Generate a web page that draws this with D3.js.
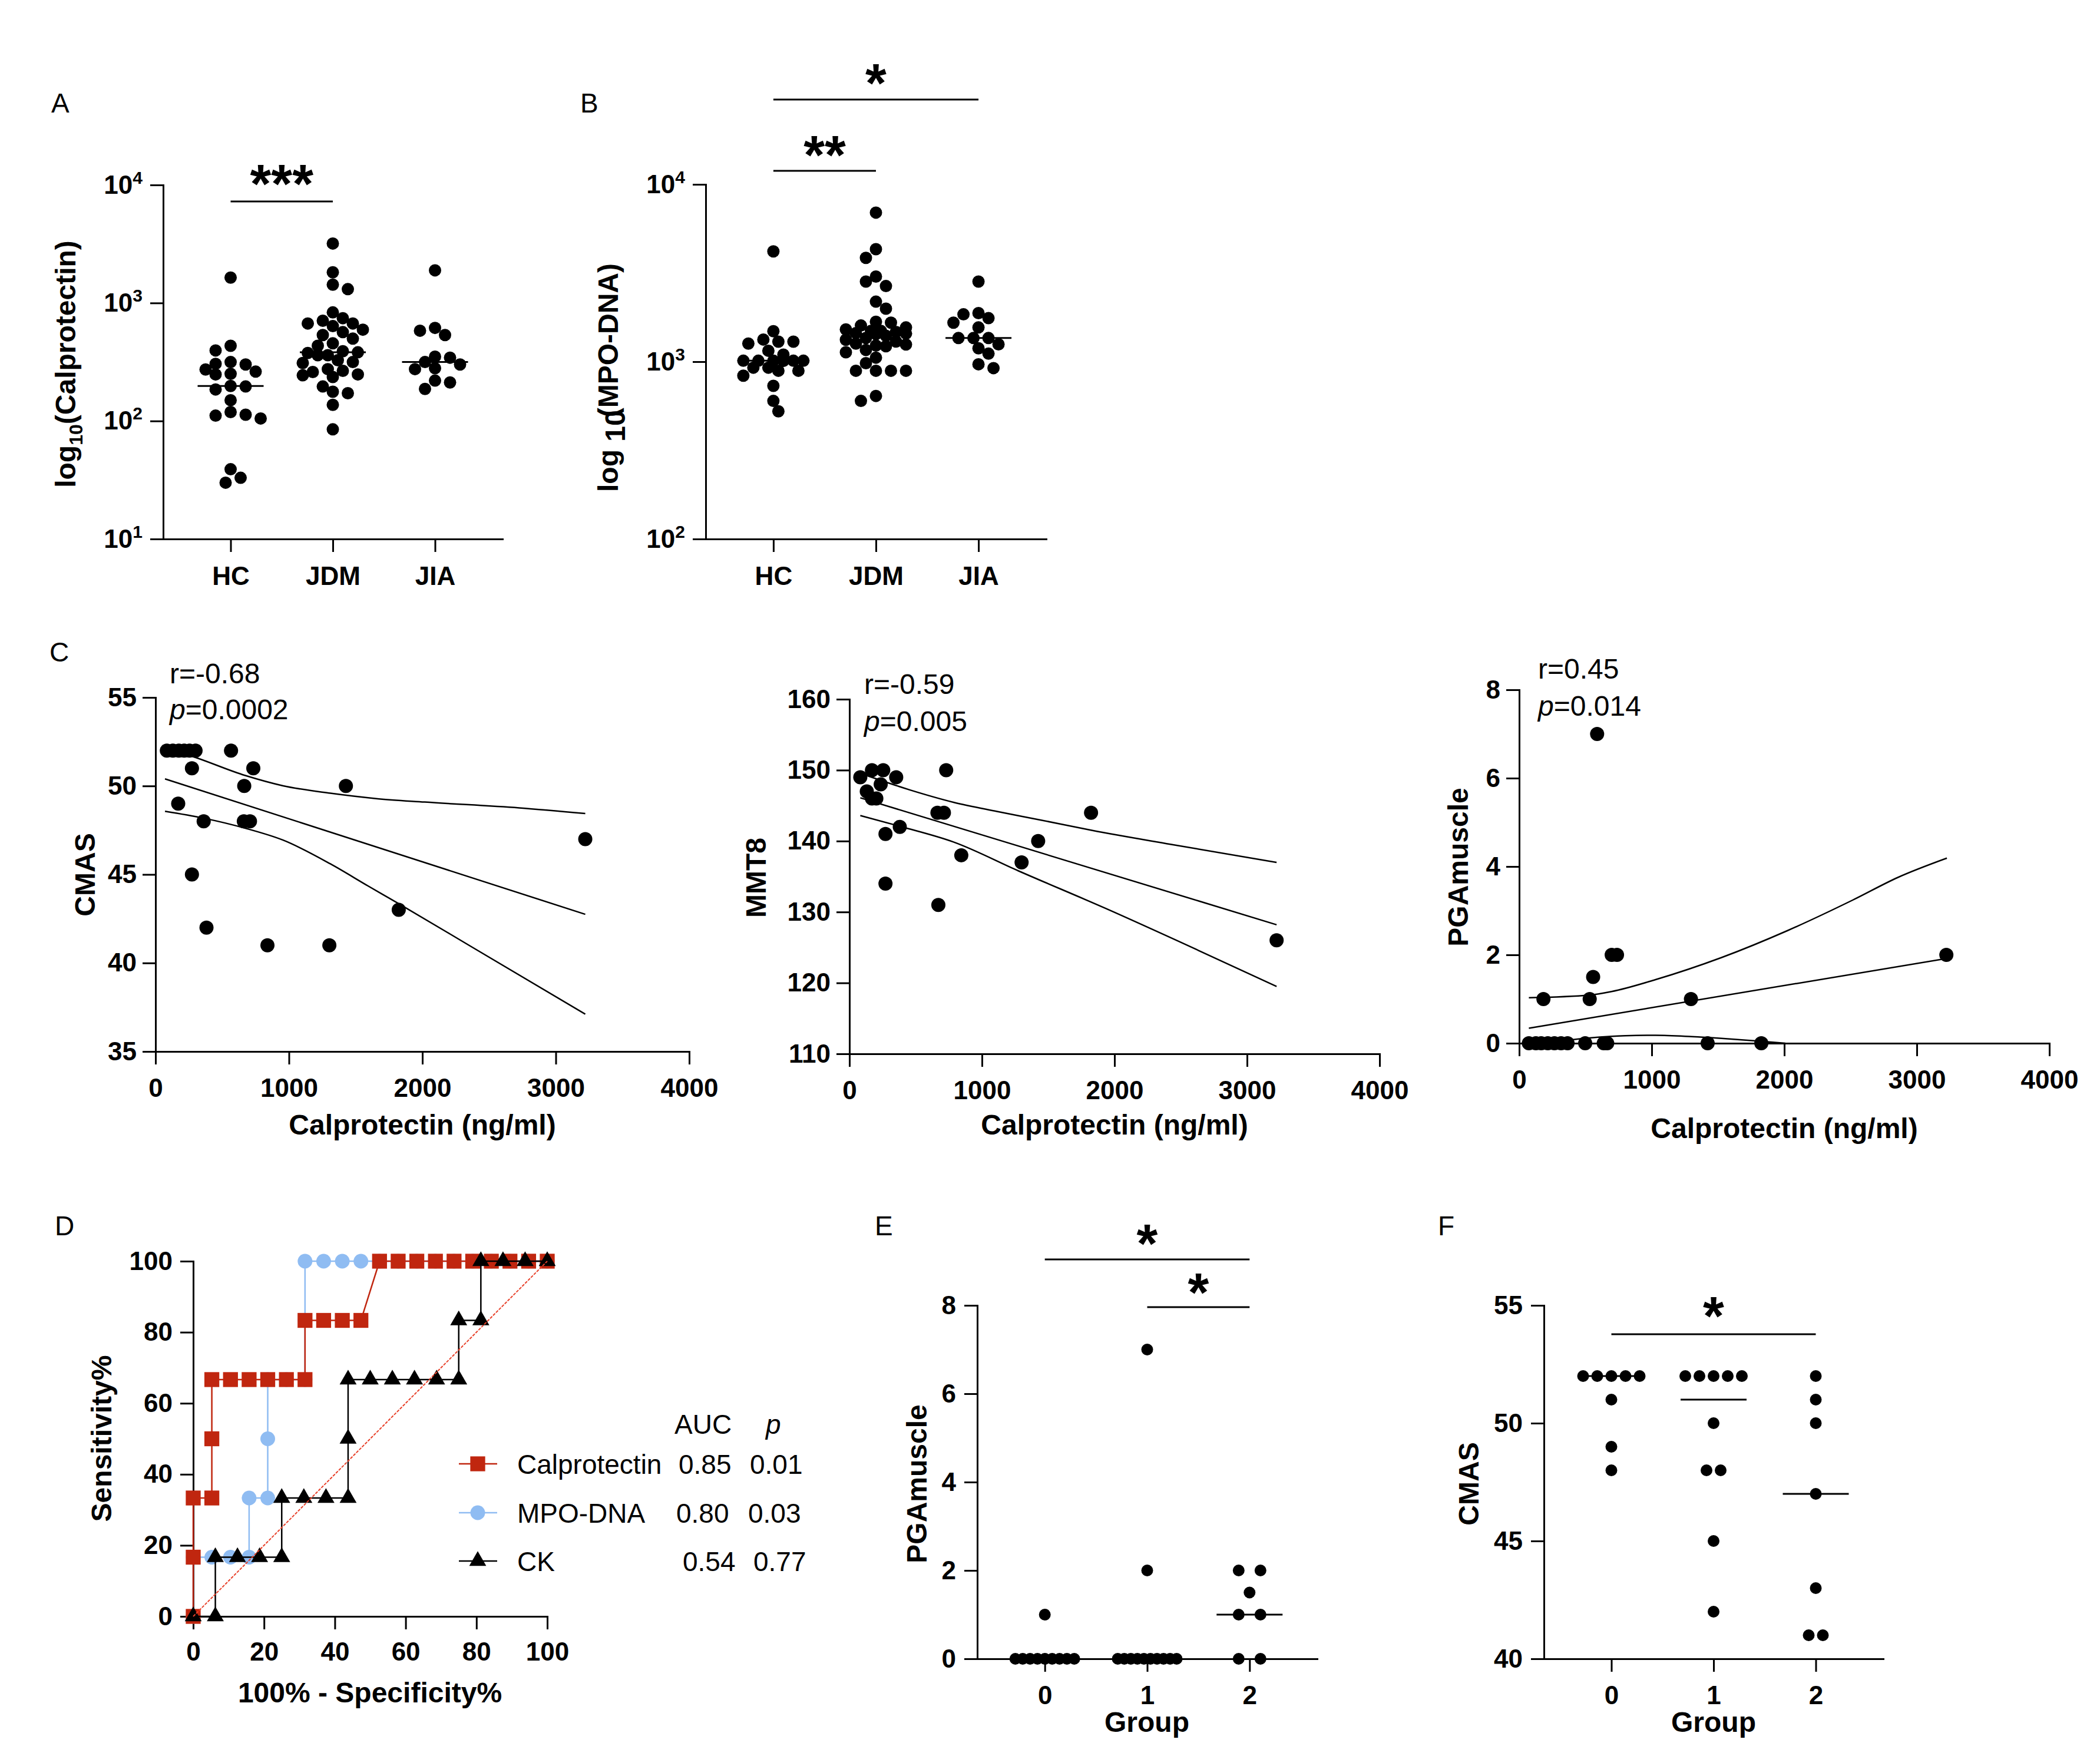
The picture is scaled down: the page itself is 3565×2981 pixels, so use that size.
<!DOCTYPE html>
<html>
<head>
<meta charset="utf-8" />
<title>Calprotectin, MPO-DNA and disease activity in JDM</title>
<script src="https://cdn.jsdelivr.net/npm/d3@7"></script>
<style>
  body { margin: 0; background: #fff; }
  svg text { font-family: "Liberation Sans", Arial, Helvetica, sans-serif; fill: #000; }
</style>
</head>
<body>
<script>
// ---------- A: calprotectin (log) by group ----------
var groupNames = ["HC", "JDM", "JIA"];
var calHC = [1640, 434, 396, 316, 301, 305, 273, 262, 251, 248, 185, 196, 198, 150, 119, 111, 105, 113, 39, 30, 33];
var calJDM = [3190, 1820, 1430, 1310, 832, 743, 707, 670, 670, 637, 594, 566, 535, 499, 455, 434, 390, 382, 377, 361, 361,
  327, 316, 310, 275, 266, 260, 248, 244, 236, 196, 177, 172, 137, 85];
var calJIA = [1890, 615, 582, 535, 351, 344, 316, 301, 280, 275, 220, 212, 187];
var logTicksA = [10, 100, 1000, 10000];

// ---------- B: MPO-DNA (log) by group ----------
var mpoHC = [4190, 1486, 1333, 1297, 1297, 1265, 1153, 1097, 1013, 1013, 1013, 1013, 1013, 1010, 925, 925, 889, 889, 834, 731, 601, 525];
var mpoJDM = [6930, 4310, 3850, 3020, 2830, 2670, 2180, 1990, 1680, 1660, 1600, 1560, 1520, 1490, 1490, 1470, 1450, 1440, 1430,
  1400, 1360, 1330, 1300, 1265, 1250, 1233, 1222, 1164, 1130, 1054, 981, 889, 889, 889, 889, 641, 601];
var mpoJIA = [2830, 1880, 1850, 1760, 1660, 1560, 1360, 1360, 1360, 1253, 1190, 1110, 967, 920];
var logTicksB = [100, 1000, 10000];

// ---------- C: correlations with calprotectin ----------
var cmasCal = [85, 130, 175, 215, 255, 300, 566, 273, 733, 665, 1427, 170, 361, 662, 708, 3221, 273, 1823, 382, 839, 1303];
var cmasVal = [52, 52, 52, 52, 52, 52, 52, 51, 51, 50, 50, 49, 48, 48, 48, 47, 45, 43, 42, 41, 41];
var cmasFit = [[71, 50.4], [3221, 42.75]];
var cmasUpper = [[71, 52.12], [248, 51.74], [673, 50.59], [956, 50.01], [1310, 49.59], [1664, 49.28], [2018, 49.09], [2726, 48.76], [3221, 48.44]];
var cmasLower = [[71, 48.57], [354, 48.19], [673, 47.61], [956, 46.94], [1310, 45.6], [1593, 44.35], [1823, 43.35], [2372, 40.9], [3221, 37.11]];

var mmtCal = [82, 131, 170, 255, 236, 170, 203, 353, 730, 664, 713, 380, 272, 1823, 1424, 844, 1299, 272, 671, 3223];
var mmtVal = [149, 147, 150, 150, 148, 146, 146, 149, 150, 144, 144, 142, 141, 144, 140, 138, 137, 134, 131, 126];
var mmtFit = [[82, 146.1], [3223, 128.2]];
var mmtUpper = [[98, 149.45], [458, 147.2], [785, 145.47], [1113, 144.18], [1440, 142.98], [1833, 141.5], [2421, 139.55], [3223, 136.99]];
var mmtLower = [[82, 143.6], [393, 142.02], [785, 139.87], [1276, 135.79], [1931, 130.52], [2585, 125.0], [3223, 119.49]];

var pgaCal = [73, 126, 166, 216, 266, 316, 365, 498, 638, 664, 1422, 1827, 183, 532, 1296, 558, 698, 738, 3223, 588];
var pgaVal = [0, 0, 0, 0, 0, 0, 0, 0, 0, 0, 0, 0, 1, 1, 1, 1.5, 2, 2, 2, 7];
var pgaFit = [[73, 0.34], [3227, 1.92]];
var pgaUpper = [[73, 1.03], [531, 1.09], [697, 1.17], [1029, 1.44], [1527, 1.94], [2025, 2.55], [2523, 3.25], [2855, 3.75], [3227, 4.19]];
var pgaLower = [[73, 0.0], [300, 0.05], [531, 0.12], [800, 0.17], [1029, 0.18], [1300, 0.15], [1527, 0.11], [1800, 0.05], [2008, 0.0]];

var corrR = ["r=-0.68", "r=-0.59", "r=0.45"];
var corrP = ["=0.0002", "=0.005", "=0.014"];

// ---------- D: ROC curves ----------
var rocCalFpr = [0, 0, 0, 5.26, 5.26, 5.26, 10.53, 15.79, 21.05, 26.32, 31.58, 31.58, 36.84, 42.11, 47.37, 52.63, 57.89, 63.16, 68.42, 73.68, 78.95, 84.21, 89.47, 94.74, 100];
var rocCalSens = [0, 16.67, 33.33, 33.33, 50, 66.67, 66.67, 66.67, 66.67, 66.67, 66.67, 83.33, 83.33, 83.33, 83.33, 100, 100, 100, 100, 100, 100, 100, 100, 100, 100];
var rocMpoFpr = [0, 0, 5.26, 10.53, 15.79, 15.79, 21.05, 21.05, 21.05, 26.32, 31.58, 31.58, 31.58, 36.84, 42.11, 47.37, 52.63, 57.89, 63.16, 68.42, 73.68, 78.95, 84.21, 89.47, 94.74, 100];
var rocMpoSens = [0, 16.67, 16.67, 16.67, 16.67, 33.33, 33.33, 50, 66.67, 66.67, 66.67, 83.33, 100, 100, 100, 100, 100, 100, 100, 100, 100, 100, 100, 100, 100, 100];
var rocCkFpr = [0, 6.25, 6.25, 12.5, 18.75, 25, 25, 31.25, 37.5, 43.75, 43.75, 43.75, 50, 56.25, 62.5, 68.75, 75, 75, 81.25, 81.25, 87.5, 93.75, 100];
var rocCkSens = [0, 0, 16.67, 16.67, 16.67, 16.67, 33.33, 33.33, 33.33, 33.33, 50, 66.67, 66.67, 66.67, 66.67, 66.67, 66.67, 83.33, 83.33, 100, 100, 100, 100];
var rocNames = ["Calprotectin", "MPO-DNA", "CK"];
var rocAUC = ["0.85", "0.80", "0.54"];
var rocP = ["0.01", "0.03", "0.77"];
var rocColors = ["#c0260f", "#8fbcf2", "#000000"];

// ---------- E / F: by activity group ----------
var activityGroups = [0, 1, 2];
var pgaG0 = [0, 0, 0, 0, 0, 0, 0, 0, 0, 1];
var pgaG1 = [0, 0, 0, 0, 0, 0, 0, 0, 0, 0, 2, 7];
var pgaG2 = [0, 0, 1, 1, 1.5, 2, 2];
var cmasG0 = [52, 52, 52, 52, 52, 51, 49, 48];
var cmasG1 = [52, 52, 52, 52, 52, 50, 48, 48, 45, 42];
var cmasG2 = [52, 51, 50, 47, 43, 41, 41];


var svg = d3.select("body").append("svg")
  .attr("width", 3565).attr("height", 2981)
  .style("display", "block");
svg.append("rect").attr("width", 3565).attr("height", 2981).attr("fill", "#fff");

function txt(x, y, s, size, weight, anchor, rot) {
  return svg.append("text")
    .attr("transform", "translate(" + x + "," + y + ")" + (rot ? " rotate(-90)" : ""))
    .attr("font-size", size)
    .attr("font-weight", weight || "normal")
    .attr("text-anchor", anchor || "start")
    .text(s);
}

function drawAxes(x, y, left, bottom, o) {
  var gx = svg.append("g").attr("transform", "translate(0," + bottom + ")")
    .call(d3.axisBottom(x).tickSize(22).tickSizeOuter(0).tickPadding(o.xPad)
      .tickValues(o.xTicks || null).tickFormat(o.xFmt || null));
  var gy = svg.append("g").attr("transform", "translate(" + left + ",0)")
    .call(d3.axisLeft(y).tickSize(22).tickSizeOuter(0).tickPadding(o.yPad)
      .tickValues(o.yTicks).tickFormat(o.yFmt || null));
  [gx, gy].forEach(function (g) {
    g.attr("font-size", 44).attr("font-family", null);
    g.select(".domain").attr("stroke-width", 3).attr("stroke-linecap", "square");
    g.selectAll(".tick line").attr("stroke-width", 3);
    g.selectAll(".tick text").attr("font-weight", "bold");
  });
  return gy;
}

// superscript powers of ten on a log axis
function powTen(gy) {
  gy.selectAll(".tick text").each(function (d) {
    var t = d3.select(this);
    t.text("10");
    t.append("tspan").attr("dy", -17).attr("font-size", 30).text(Math.round(Math.log10(d)));
  });
}

// beeswarm for continuous data, kept inside +-maxOff (dots may touch like in Prism)
function swarm(vals, y, cx, minD, step, maxOff) {
  var pts = vals.map(function (v) { return { v: v, y: y(v) }; })
    .sort(function (a, b) { return a.y - b.y; });
  var placed = [];
  pts.forEach(function (p, i) {
    var side = i % 2 ? 1 : -1, best = null, bestD = -1;
    for (var k = 0; ; k++) {
      var off = k === 0 ? 0 : (k % 2 ? side : -side) * Math.ceil(k / 2) * step;
      if (Math.abs(off) > maxOff) break;
      var dmin = d3.min(placed, function (q) {
        var dx = q.x - (cx + off), dy = q.y - p.y;
        return Math.sqrt(dx * dx + dy * dy);
      });
      if (dmin === undefined || dmin >= minD) { best = off; break; }
      if (dmin > bestD) { bestD = dmin; best = off; }
    }
    p.x = cx + best;
    placed.push(p);
  });
  return placed;
}

// centred rows for repeated scores
function rows(vals, y, cx, maxW, gap) {
  var out = [];
  d3.groups(vals, function (v) { return v; }).forEach(function (gr) {
    var n = gr[1].length, sp = n > 1 ? Math.min(gap, maxW / (n - 1)) : 0;
    gr[1].forEach(function (v, i) { out.push({ v: v, x: cx + (i - (n - 1) / 2) * sp, y: y(v) }); });
  });
  return out;
}

function bracket(x1, x2, ly, sy, stars) {
  svg.append("line").attr("x1", x1).attr("x2", x2).attr("y1", ly).attr("y2", ly)
    .attr("stroke", "#000").attr("stroke-width", 3);
  txt((x1 + x2) / 2, sy + 43, stars, 92, "bold", "middle");
}

function dotPanel(p) {
  var x = d3.scalePoint().domain(p.groups).range([p.left, p.right]).padding(0.66);
  var gy = drawAxes(x, p.y, p.left, p.bottom, { xPad: p.xPad, yPad: p.yPad, yTicks: p.yTicks, yFmt: p.yFmt });
  if (p.log) powTen(gy);
  p.data.forEach(function (vals, i) {
    var cx = x(p.groups[i]);
    var pts = p.layout(vals, p.y, cx);
    svg.append("g").selectAll("circle").data(pts).enter().append("circle")
      .attr("cx", function (d) { return d.x; })
      .attr("cy", function (d) { return d.y; })
      .attr("r", p.r).attr("fill", "#000");
    var m = p.y(d3.median(vals));
    svg.append("line").attr("x1", cx - 56).attr("x2", cx + 56).attr("y1", m).attr("y2", m)
      .attr("stroke", "#000").attr("stroke-width", 3);
  });
  return x;
}

// ---------- Panel A ----------
txt(87, 191, "A", 46);
var yA = d3.scaleLog().domain([10, 10000]).range([915, 314]);
var xA = dotPanel({
  left: 277, right: 853, bottom: 915, y: yA, groups: groupNames, data: [calHC, calJDM, calJIA],
  layout: function (v, y, cx) { return swarm(v, y, cx, 19, 8.5, 52); }, r: 10.5,
  xPad: 25, yPad: 13, yTicks: logTicksA, yFmt: String, log: true
});
var ta = txt(128, 618, "log", 48, "bold", "middle", true);
ta.append("tspan").attr("dy", 12).attr("font-size", 32).text("10");
ta.append("tspan").attr("dy", -12).text("(Calprotectin)");
bracket(xA("HC"), xA("JDM"), 342, 301, "***");

// ---------- Panel B ----------
txt(985, 191, "B", 46);
var yB = d3.scaleLog().domain([100, 10000]).range([915, 313]);
var xB = dotPanel({
  left: 1198, right: 1776, bottom: 915, y: yB, groups: groupNames, data: [mpoHC, mpoJDM, mpoJIA],
  layout: function (v, y, cx) { return swarm(v, y, cx, 19, 8.5, 52); }, r: 10.5,
  xPad: 25, yPad: 13, yTicks: logTicksB, yFmt: String, log: true
});
var tb = txt(1049, 641, "log ", 48, "bold", "middle", true);
tb.append("tspan").attr("dy", 12).text("10");
tb.append("tspan").attr("dy", -12).attr("dx", -12).text("(MPO-DNA)");
bracket(xB("HC"), xB("JDM"), 290, 252, "**");
bracket(xB("HC"), xB("JIA"), 169, 130, "*");

// ---------- Panel C ----------
txt(84, 1123, "C", 46);
var corrPanels = [
  { left: 264, right: 1170, top: 1184, bottom: 1785, dom: [35, 55], ticks: [35, 40, 45, 50, 55], xs: cmasCal, ys: cmasVal,
    fit: cmasFit, up: cmasUpper, lo: cmasLower, title: "CMAS", tx: 161, ty: 1485, rx: 288, ry: 1160, py: 1221, xt: 1926 },
  { left: 1442, right: 2342, top: 1187, bottom: 1789, dom: [110, 160], ticks: [110, 120, 130, 140, 150, 160], xs: mmtCal, ys: mmtVal,
    fit: mmtFit, up: mmtUpper, lo: mmtLower, title: "MMT8", tx: 1300, ty: 1490, rx: 1467, ry: 1178, py: 1241, xt: 1926 },
  { left: 2579, right: 3479, top: 1171, bottom: 1771, dom: [0, 8], ticks: [0, 2, 4, 6, 8], xs: pgaCal, ys: pgaVal,
    fit: pgaFit, up: pgaUpper, lo: pgaLower, title: "PGAmuscle", tx: 2492, ty: 1472, rx: 2611, ry: 1152, py: 1215, xt: 1932 }
];
corrPanels.forEach(function (c, i) {
  var x = d3.scaleLinear().domain([0, 4000]).range([c.left, c.right]);
  var y = d3.scaleLinear().domain(c.dom).range([c.bottom, c.top]);
  drawAxes(x, y, c.left, c.bottom, { xPad: 24, yPad: 10, xTicks: [0, 1000, 2000, 3000, 4000], xFmt: d3.format("d"), yTicks: c.ticks });
  var line = d3.line().x(function (d) { return x(d[0]); }).y(function (d) { return y(d[1]); }).curve(d3.curveMonotoneX);
  [c.up, c.lo, c.fit].forEach(function (l) {
    svg.append("path").attr("d", line(l)).attr("fill", "none").attr("stroke", "#000").attr("stroke-width", 2.5);
  });
  svg.append("g").selectAll("circle").data(c.xs).enter().append("circle")
    .attr("cx", function (d) { return x(d); })
    .attr("cy", function (d, j) { return y(c.ys[j]); })
    .attr("r", 12).attr("fill", "#000");
  txt(c.tx, c.ty, c.title, 48, "bold", "middle", true);
  txt((c.left + c.right) / 2, c.xt, "Calprotectin (ng/ml)", 48, "bold", "middle");
  txt(c.rx, c.ry, corrR[i], 48);
  var pt = txt(c.rx, c.py, "", 48);
  pt.append("tspan").attr("font-style", "italic").text("p");
  pt.append("tspan").text(corrP[i]);
});

// ---------- Panel D ----------
txt(93, 2097, "D", 46);
var xD = d3.scaleLinear().domain([0, 100]).range([328, 929]);
var yD = d3.scaleLinear().domain([0, 100]).range([2744, 2141]);
drawAxes(xD, yD, 328, 2744, { xPad: 22, yPad: 13, xTicks: [0, 20, 40, 60, 80, 100], yTicks: [0, 20, 40, 60, 80, 100] });
txt(189, 2442, "Sensitivity%", 48, "bold", "middle", true);
txt(628, 2890, "100% - Specificity%", 48, "bold", "middle");

var rocSets = [
  { fpr: rocMpoFpr, sens: rocMpoSens, color: rocColors[1], sym: d3.symbolCircle, size: 490 },
  { fpr: rocCalFpr, sens: rocCalSens, color: rocColors[0], sym: d3.symbolSquare, size: 640 },
  { fpr: rocCkFpr, sens: rocCkSens, color: rocColors[2], sym: d3.symbolTriangle, size: 360 }
];
var rocLine = d3.line().x(function (d) { return xD(d[0]); }).y(function (d) { return yD(d[1]); });
rocSets.forEach(function (s) {
  var pts = s.fpr.map(function (f, j) { return [f, s.sens[j]]; });
  svg.append("path").attr("d", rocLine(pts)).attr("fill", "none").attr("stroke", s.color).attr("stroke-width", 2.5);
  svg.append("g").selectAll("path").data(pts).enter().append("path")
    .attr("d", d3.symbol().type(s.sym).size(s.size))
    .attr("transform", function (d) { return "translate(" + xD(d[0]) + "," + yD(d[1]) + ")"; })
    .attr("fill", s.color);
});
svg.append("path").attr("d", rocLine([[0, 0], [100, 100]])).attr("fill", "none")
  .attr("stroke", "#e8412a").attr("stroke-width", 2).attr("stroke-dasharray", "5,2");

// legend
txt(1145, 2434, "AUC", 46);
txt(1300, 2434, "p", 46).attr("font-style", "italic");
var legSym = [d3.symbolSquare, d3.symbolCircle, d3.symbolTriangle];
var legSize = [640, 490, 360];
var legY = [2485, 2568, 2650];
var aucX = [1152, 1148, 1159], pX = [1273, 1270, 1279];
rocNames.forEach(function (n, i) {
  svg.append("line").attr("x1", 779).attr("x2", 844).attr("y1", legY[i]).attr("y2", legY[i])
    .attr("stroke", rocColors[i]).attr("stroke-width", 2.5);
  svg.append("path").attr("d", d3.symbol().type(legSym[i]).size(legSize[i]))
    .attr("transform", "translate(811," + legY[i] + ")").attr("fill", rocColors[i]);
  txt(878, legY[i] + 17, n, 46);
  txt(aucX[i], legY[i] + 17, rocAUC[i], 46);
  txt(pX[i], legY[i] + 17, rocP[i], 46);
});

// ---------- Panel E ----------
txt(1485, 2097, "E", 46);
var yE = d3.scaleLinear().domain([0, 8]).range([2816, 2216]);
var xE = dotPanel({
  left: 1659, right: 2236, bottom: 2816, y: yE, groups: activityGroups, data: [pgaG0, pgaG1, pgaG2],
  layout: function (v, y, cx) { return rows(v, y, cx, 100, 37); }, r: 10,
  xPad: 24, yPad: 14, yTicks: [0, 2, 4, 6, 8]
});
txt(1573, 2519, "PGAmuscle", 48, "bold", "middle", true);
txt(1947, 2940, "Group", 48, "bold", "middle");
bracket(xE(0), xE(2), 2138, 2100, "*");
bracket(xE(1), xE(2), 2219, 2183, "*");

// ---------- Panel F ----------
txt(2441, 2097, "F", 46);
var yF = d3.scaleLinear().domain([40, 55]).range([2816, 2216]);
var xF = dotPanel({
  left: 2621, right: 3197, bottom: 2816, y: yF, groups: activityGroups, data: [cmasG0, cmasG1, cmasG2],
  layout: function (v, y, cx) { return rows(v, y, cx, 100, 24); }, r: 10,
  xPad: 24, yPad: 14, yTicks: [40, 45, 50, 55]
});
txt(2510, 2519, "CMAS", 48, "bold", "middle", true);
txt(2909, 2940, "Group", 48, "bold", "middle");
bracket(xF(0), xF(2), 2265, 2223, "*");
</script>
</body>
</html>
